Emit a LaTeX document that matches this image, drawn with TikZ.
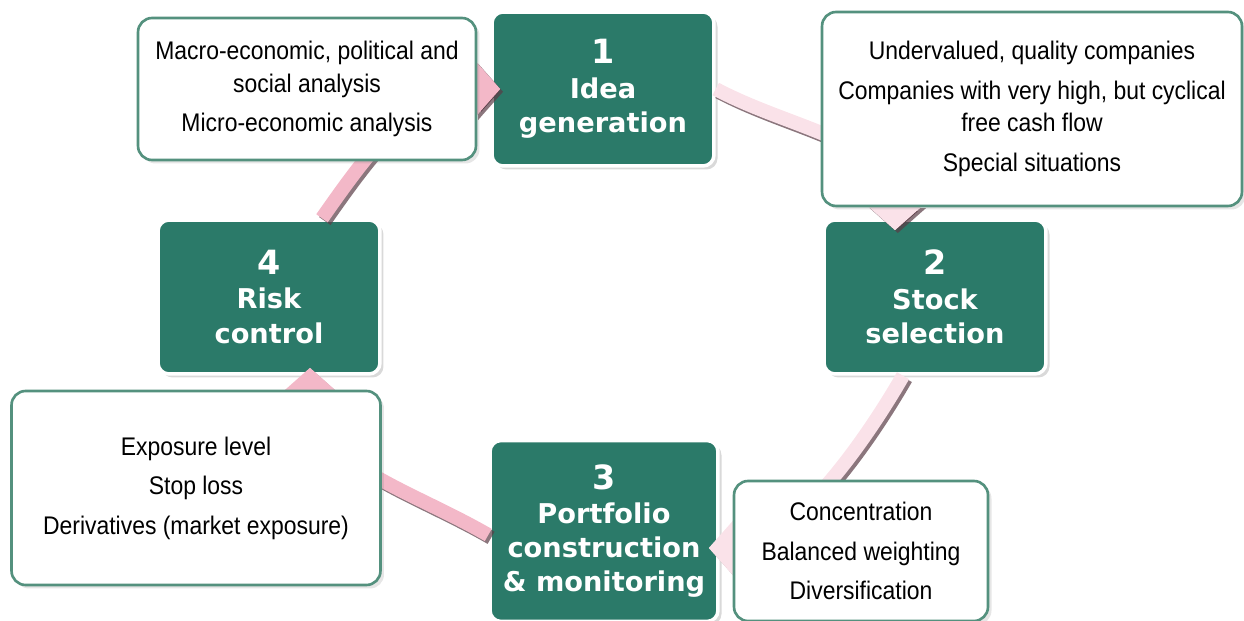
\documentclass[tikz,border=0pt]{standalone}
\usepackage{fontspec}
\setmainfont{Liberation Sans}[FakeStretch=0.9]
\newfontfamily\headfont{DejaVu Sans}
\usetikzlibrary{arrows.meta,shadows,calc}
\definecolor{stepgreen}{RGB}{43,122,105}
\definecolor{noteline}{RGB}{84,145,126}
\definecolor{ringpink}{RGB}{243,184,200}
\definecolor{ringlight}{RGB}{250,226,233}
\definecolor{ringshade}{RGB}{90,60,70}
\newcommand\stepnum{\fontsize{19}{20}\selectfont}
\tikzset{
  stepbox/.style={rectangle, rounded corners=0.22cm, fill=stepgreen, draw=white,
    line width=2pt, text=white, align=center,
    font=\headfont\bfseries\fontsize{15.5}{19.5}\selectfont,
    minimum width=4.44cm, minimum height=3.08cm,
    drop shadow={opacity=0.3, shadow xshift=2pt, shadow yshift=-2pt}},
  notebox/.style={rectangle, rounded corners=0.28cm, fill=white, draw=noteline,
    line width=1.5pt, align=center, font=\fontsize{14.5}{18.5}\selectfont,
    drop shadow={opacity=0.2, shadow xshift=2pt, shadow yshift=-2pt}},
  ring/.style={line width=0.28cm, draw=ringpink,
    -{Triangle[width=1.1cm,length=0.5cm]}},
  ringshadow/.style={ring, draw=ringshade, draw opacity=0.7,
    transform canvas={xshift=1.6pt,yshift=-1.6pt}}
}
\begin{document}
\begin{tikzpicture}[x=0.02cm, y=0.02cm]
\useasboundingbox (0,0) rectangle (1244,-621);
\node[stepbox] (idea) at (603,-89) {{\stepnum 1}\\Idea\\generation};
\node[stepbox] (stock) at (935,-297) {{\stepnum 2}\\Stock\\selection};
\node[stepbox, minimum width=4.56cm, minimum height=3.62cm] (portfolio) at (604,-531) {{\stepnum 3}\\Portfolio\\construction\\\&~monitoring};
\node[stepbox] (risk) at (269,-297) {{\stepnum 4}\\Risk\\control};
\draw[ringshadow] (idea.east) to[out=-28, in=90] ($(stock.north)+(-40,-12)$);
\draw[ring, draw=ringlight] (idea.east) to[out=-28, in=90] ($(stock.north)+(-40,-12)$);
\draw[ringshadow] ($(stock.south)+(-32,0)$) to[out=-120, in=0, looseness=0.8] ($(portfolio.east)+(-11,-17)$);
\draw[ring, draw=ringlight] ($(stock.south)+(-32,0)$) to[out=-120, in=0, looseness=0.8] ($(portfolio.east)+(-11,-17)$);
\draw[ringshadow] ($(portfolio.west)+(0,-4)$) to[out=150, in=-90] ($(risk.south)+(41,8)$);
\draw[ring] ($(portfolio.west)+(0,-4)$) to[out=150, in=-90] ($(risk.south)+(41,8)$);
\draw[ringshadow] ($(risk.north)+(53,0)$) to[out=55, in=180] ($(idea.west)+(10,0)$);
\draw[ring] ($(risk.north)+(53,0)$) to[out=55, in=180] ($(idea.west)+(10,0)$);
\node[notebox, minimum width=6.76cm, minimum height=2.84cm] (ideanote) at (307,-89)
  {Macro-economic, political and\\social analysis\\[4pt]Micro-economic analysis};
\node[notebox, minimum width=8.4cm, minimum height=3.88cm] (stocknote) at (1032,-109)
  {Undervalued, quality companies\\[4pt]Companies with very high, but cyclical\\free cash flow\\[4pt]Special situations};
\node[notebox, minimum width=5.08cm, minimum height=2.8cm] (portfolionote) at (861,-551)
  {Concentration\\[4pt]Balanced weighting\\[4pt]Diversification};
\node[notebox, minimum width=7.38cm, minimum height=3.88cm] (risknote) at (196,-488)
  {Exposure level\\[4pt]Stop loss\\[4pt]Derivatives (market exposure)};
\end{tikzpicture}
\end{document}
